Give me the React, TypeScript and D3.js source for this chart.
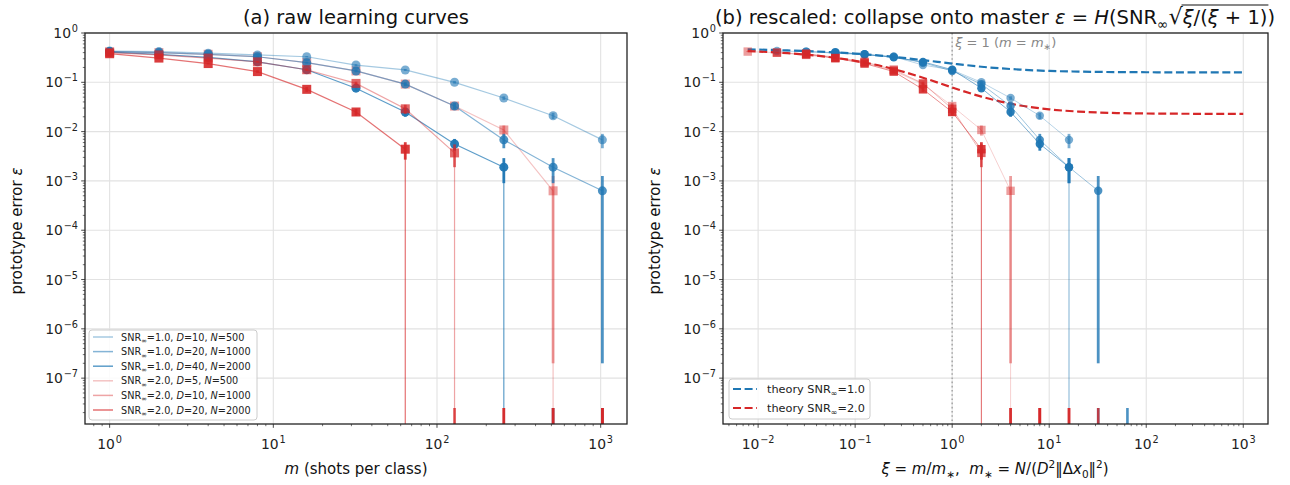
import React, { useRef, useEffect } from 'react';
import * as d3 from 'd3';

// shots per class m
const shots = [1, 2, 4, 8, 16, 32, 64, 128, 256, 512, 1024];

// one entry per run
const seriesSnr = ['1.0', '1.0', '1.0', '2.0', '2.0', '2.0'];
const seriesD = [10, 20, 40, 5, 10, 20];
const seriesN = [500, 1000, 2000, 500, 1000, 2000];
const seriesMStar = [64, 32, 16, 128, 64, 32];

// mean prototype error, 0 = no error seen
const errSnr1D10 = [0.43, 0.42, 0.39, 0.36, 0.33, 0.224, 0.178, 0.1, 0.048, 0.021, 0.0068];
const errSnr1D20 = [0.42, 0.4, 0.37, 0.33, 0.25, 0.17, 0.092, 0.033, 0.0068, 0.0019, 0.00063];
const errSnr1D40 = [0.41, 0.37, 0.32, 0.26, 0.18, 0.076, 0.025, 0.0056, 0.0019, 0, 0];
const errSnr2D5 = [0.42, 0.4, 0.37, 0.33, 0.25, 0.17, 0.092, 0.033, 0.0108, 0.00063, 0];
const errSnr2D10 = [0.4, 0.36, 0.31, 0.26, 0.18, 0.095, 0.029, 0.0037, 0, 0, 0];
const errSnr2D20 = [0.38, 0.31, 0.24, 0.165, 0.072, 0.025, 0.0044, 0, 0, 0, 0];

// std over trials
const sdSnr1D10 = [0.01, 0.01, 0.01, 0.01, 0.01, 0.01, 0.008, 0.006, 0.004, 0.003, 0.0022];
const sdSnr1D20 = [0.01, 0.01, 0.01, 0.01, 0.01, 0.01, 0.008, 0.005, 0.0022, 0.001, 0.0006298];
const sdSnr1D40 = [0.01, 0.01, 0.01, 0.01, 0.01, 0.008, 0.005, 0.0015, 0.001, 0, 0];
const sdSnr2D5 = [0.01, 0.01, 0.01, 0.01, 0.01, 0.01, 0.008, 0.005, 0.0025, 0.0006298, 0];
const sdSnr2D10 = [0.01, 0.01, 0.01, 0.01, 0.01, 0.008, 0.006, 0.0018, 0, 0, 0];
const sdSnr2D20 = [0.01, 0.01, 0.01, 0.01, 0.008, 0.004, 0.0017, 0, 0, 0, 0];

const errAll = [errSnr1D10, errSnr1D20, errSnr1D40, errSnr2D5, errSnr2D10, errSnr2D20];
const sdAll = [sdSnr1D10, sdSnr1D20, sdSnr1D40, sdSnr2D5, sdSnr2D10, sdSnr2D20];

// master curve
const xiTheory = [0.0078, 0.02, 0.05, 0.1, 0.2, 0.5, 1, 2, 5, 10, 20, 50, 100, 300, 1000];
const theorySnr1 = [0.465, 0.444, 0.414, 0.382, 0.342, 0.282, 0.24, 0.207, 0.181, 0.17, 0.165, 0.161, 0.16, 0.159, 0.159];
const theorySnr2 = [0.429, 0.39, 0.331, 0.273, 0.207, 0.124, 0.0786, 0.0512, 0.0339, 0.0283, 0.0255, 0.0238, 0.0233, 0.023, 0.0228];

const BLUE = '#1f77b4';
const RED = '#d62728';
const FONT = 'DejaVu Sans, sans-serif';

const colors = [BLUE, BLUE, BLUE, RED, RED, RED];
const markerAlpha = [0.6, 0.8, 0.95, 0.45, 0.7, 0.9];
const lineAlpha = [0.4, 0.55, 0.72, 0.28, 0.42, 0.65];
const drawOrder = [3, 0, 1, 2, 4, 5];

type Part = { t: string; it?: boolean; sub?: boolean; sup?: boolean; big?: number };

function rich(text: any, parts: Part[], fs: number) {
  let shift = 0;
  parts.forEach(p => {
    const target = p.sub ? fs * 0.25 : p.sup ? -fs * 0.42 : 0;
    const ts = text.append('tspan').text(p.t);
    if (target - shift !== 0) ts.attr('dy', target - shift);
    shift = target;
    if (p.sub || p.sup) ts.attr('font-size', fs * 0.7);
    if (p.big) ts.attr('font-size', fs * p.big);
    if (p.it) ts.attr('font-style', 'italic');
  });
}

function logTicks(scale: any) {
  const [a, b] = scale.domain();
  const lo = Math.floor(Math.log10(a));
  const hi = Math.ceil(Math.log10(b));
  const major: number[] = [];
  const minor: number[] = [];
  for (let e = lo; e <= hi; e++) {
    const v = Math.pow(10, e);
    if (v >= a && v <= b) major.push(e);
    for (let k = 2; k <= 9; k++) {
      const mv = k * v;
      if (mv >= a && mv <= b) minor.push(mv);
    }
  }
  return { major, minor };
}

const TICK_FS = 13.9;

function powLabel(t: any, e: number) {
  t.append('tspan').text('10');
  t.append('tspan').attr('dx', 0.8).attr('dy', -TICK_FS * 0.42).attr('font-size', TICK_FS * 0.7)
    .text(e < 0 ? '\u2212' + (-e) : String(e));
}

function drawAxes(svg: any, x: any, y: any, id: string) {
  const [x0, x1] = x.range();
  const [yb, yt] = y.range();
  const xt = logTicks(x);
  const yt2 = logTicks(y);

  svg.append('clipPath').attr('id', id)
    .append('rect').attr('x', x0).attr('y', yt).attr('width', x1 - x0).attr('height', yb - yt);

  const grid = svg.append('g');
  xt.major.forEach(e => {
    grid.append('line').attr('x1', x(Math.pow(10, e))).attr('x2', x(Math.pow(10, e)))
      .attr('y1', yt).attr('y2', yb).attr('stroke', '#e2e2e2').attr('stroke-width', 1.1);
  });
  yt2.major.forEach(e => {
    grid.append('line').attr('y1', y(Math.pow(10, e))).attr('y2', y(Math.pow(10, e)))
      .attr('x1', x0).attr('x2', x1).attr('stroke', '#e2e2e2').attr('stroke-width', 1.1);
  });

  const ax = svg.append('g').attr('font-family', FONT);
  // x ticks
  xt.minor.forEach(v => {
    ax.append('line').attr('x1', x(v)).attr('x2', x(v)).attr('y1', yb).attr('y2', yb + 2.2)
      .attr('stroke', '#333').attr('stroke-width', 0.7);
  });
  xt.major.forEach(e => {
    const px = x(Math.pow(10, e));
    ax.append('line').attr('x1', px).attr('x2', px).attr('y1', yb).attr('y2', yb + 3.8)
      .attr('stroke', '#333').attr('stroke-width', 0.9);
    const t = ax.append('text').attr('x', px).attr('y', yb + 25).attr('text-anchor', 'middle')
      .attr('font-size', TICK_FS).attr('fill', '#222');
    powLabel(t, e);
  });
  // y ticks
  yt2.minor.forEach(v => {
    ax.append('line').attr('y1', y(v)).attr('y2', y(v)).attr('x1', x0).attr('x2', x0 - 2.2)
      .attr('stroke', '#333').attr('stroke-width', 0.7);
  });
  yt2.major.forEach(e => {
    const py = y(Math.pow(10, e));
    ax.append('line').attr('y1', py).attr('y2', py).attr('x1', x0).attr('x2', x0 - 3.8)
      .attr('stroke', '#333').attr('stroke-width', 0.9);
    const t = ax.append('text').attr('x', x0 - 7).attr('y', py + 5).attr('text-anchor', 'end')
      .attr('font-size', TICK_FS).attr('fill', '#222');
    powLabel(t, e);
  });
}

function drawFrame(svg: any, x: any, y: any) {
  const [x0, x1] = x.range();
  const [yb, yt] = y.range();
  svg.append('rect').attr('x', x0).attr('y', yt).attr('width', x1 - x0).attr('height', yb - yt)
    .attr('fill', 'none').attr('stroke', '#222').attr('stroke-width', 1.3);
}

function drawSeries(g: any, x: any, y: any, i: number, rescaled: boolean, lw: number, ms: number) {
  const color = colors[i];
  const vals = errAll[i];
  const sds = sdAll[i];
  const xs = shots.map(m => (rescaled ? m / seriesMStar[i] : m));
  const bottom = y.range()[0];
  const pts = xs.map((xv, k) => ({ x: xv, v: vals[k], s: sds[k] })).filter(p => p.v > 0);
  const lastIdx = vals.reduce((acc, v, k) => (v > 0 ? k : acc), -1);

  g.append('path')
    .datum(pts)
    .attr('fill', 'none')
    .attr('stroke', color)
    .attr('stroke-opacity', lineAlpha[i])
    .attr('stroke-width', lw)
    .attr('d', d3.line<any>().x(p => x(p.x)).y(p => y(p.v)));

  // series drops to zero: line runs straight down the axis
  if (lastIdx < vals.length - 1) {
    const p = pts[pts.length - 1];
    g.append('line').attr('x1', x(p.x)).attr('x2', x(p.x)).attr('y1', y(p.v)).attr('y2', bottom)
      .attr('stroke', color).attr('stroke-opacity', lineAlpha[i]).attr('stroke-width', lw);
  }

  // error bars
  g.selectAll(null)
    .data(pts)
    .enter()
    .append('line')
    .attr('x1', p => x(p.x))
    .attr('x2', p => x(p.x))
    .attr('y1', p => y(p.v + p.s))
    .attr('y2', p => (p.v - p.s > 0 ? y(p.v - p.s) : bottom))
    .attr('stroke', color)
    .attr('stroke-opacity', markerAlpha[i])
    .attr('stroke-width', 2.8);

  const square = i >= 3;
  if (square) {
    g.selectAll(null).data(pts).enter().append('rect')
      .attr('x', p => x(p.x) - ms).attr('y', p => y(p.v) - ms)
      .attr('width', ms * 2).attr('height', ms * 2)
      .attr('fill', color).attr('fill-opacity', markerAlpha[i]);
  } else {
    g.selectAll(null).data(pts).enter().append('circle')
      .attr('cx', p => x(p.x)).attr('cy', p => y(p.v)).attr('r', ms)
      .attr('fill', color).attr('fill-opacity', markerAlpha[i]);
  }
}

function drawRugs(g: any, x: any, y: any, rescaled: boolean) {
  const bottom = y.range()[0];
  [0, 1, 2, 3, 4, 5].forEach(i => {
    errAll[i].forEach((v, k) => {
      if (v > 0) return;
      const xv = rescaled ? shots[k] / seriesMStar[i] : shots[k];
      g.append('rect').attr('x', x(xv) - 1.3).attr('y', bottom - 16).attr('width', 2.6).attr('height', 16)
        .attr('fill', colors[i]).attr('fill-opacity', 0.8);
    });
  });
}

export default function App() {
  const ref = useRef<SVGSVGElement>(null);

  useEffect(() => {
    document.body.style.margin = '0';
    const svg = d3.select(ref.current);
    svg.selectAll('*').remove();

    const y = d3.scaleLog().domain([Math.pow(10, -7.93), 1]).range([424, 33]);
    const xLeft = d3.scaleLog().domain([Math.pow(10, -0.1505), Math.pow(10, 3.1608)]).range([85, 627]);
    const xRight = d3.scaleLog().domain([Math.pow(10, -2.362), Math.pow(10, 3.255)]).range([723, 1268]);

    // ---------- panel (a) ----------
    drawAxes(svg, xLeft, y, 'clipA');
    const gA = svg.append('g').attr('clip-path', 'url(#clipA)');
    drawOrder.forEach(i => drawSeries(gA, xLeft, y, i, false, 1.2, 4.5));
    drawRugs(gA, xLeft, y, false);
    drawFrame(svg, xLeft, y);

    // legend (a)
    const legA = svg.append('g').attr('font-family', FONT);
    legA.append('rect').attr('x', 89).attr('y', 330).attr('width', 168).attr('height', 90).attr('rx', 3)
      .attr('fill', 'white').attr('fill-opacity', 0.85).attr('stroke', '#ccc');
    [0, 1, 2, 3, 4, 5].forEach(i => {
      const ly = 337 + i * 14.6;
      legA.append('line').attr('x1', 93).attr('x2', 113).attr('y1', ly).attr('y2', ly)
        .attr('stroke', colors[i]).attr('stroke-opacity', lineAlpha[i]).attr('stroke-width', 1.5);
      const t = legA.append('text').attr('x', 121).attr('y', ly + 3.5).attr('font-size', 9.7).attr('fill', '#222');
      rich(t, [
        { t: 'SNR' }, { t: '\u221e', sub: true }, { t: '=' + seriesSnr[i] + ', ' },
        { t: 'D', it: true }, { t: '=' + seriesD[i] + ', ' }, { t: 'N', it: true }, { t: '=' + seriesN[i] },
      ], 9.7);
    });

    // ---------- panel (b) ----------
    drawAxes(svg, xRight, y, 'clipB');
    const gB = svg.append('g').attr('clip-path', 'url(#clipB)');
    gB.append('line').attr('x1', xRight(1)).attr('x2', xRight(1)).attr('y1', 33).attr('y2', 424)
      .attr('stroke', '#aaa').attr('stroke-width', 1.6).attr('stroke-dasharray', '1.6,2.6');
    const theoryLine = d3.line<number>().x((_, k) => xRight(xiTheory[k])).y(v => y(v)).curve(d3.curveMonotoneX);
    gB.append('path').datum(theorySnr1).attr('fill', 'none').attr('stroke', BLUE).attr('stroke-width', 2.2)
      .attr('stroke-dasharray', '8,3.6').attr('d', theoryLine);
    gB.append('path').datum(theorySnr2).attr('fill', 'none').attr('stroke', RED).attr('stroke-width', 2.2)
      .attr('stroke-dasharray', '8,3.6').attr('d', theoryLine);
    drawOrder.forEach(i => drawSeries(gB, xRight, y, i, true, 0.8, 4.2));
    drawRugs(gB, xRight, y, true);
    drawFrame(svg, xRight, y);

    const ann = svg.append('text').attr('x', xRight(1) + 3).attr('y', 47).attr('font-size', 13)
      .attr('fill', '#888').attr('font-family', FONT).style('white-space', 'pre');
    rich(ann, [{ t: '\u03be', it: true }, { t: ' = 1 (' }, { t: 'm', it: true }, { t: ' = ' }, { t: 'm', it: true }, { t: '\u2217', sub: true }, { t: ')' }], 13);

    // legend (b)
    const legB = svg.append('g').attr('font-family', FONT);
    legB.append('rect').attr('x', 729).attr('y', 379).attr('width', 141).attr('height', 40).attr('rx', 3)
      .attr('fill', 'white').attr('fill-opacity', 0.85).attr('stroke', '#ccc');
    [BLUE, RED].forEach((c, k) => {
      const ly = 389 + k * 19;
      legB.append('line').attr('x1', 733).attr('x2', 757).attr('y1', ly).attr('y2', ly)
        .attr('stroke', c).attr('stroke-width', 2.2).attr('stroke-dasharray', '8,3.6');
      const t = legB.append('text').attr('x', 767).attr('y', ly + 4).attr('font-size', 11.3).attr('fill', '#222');
      rich(t, [{ t: 'theory SNR' }, { t: '\u221e', sub: true }, { t: k === 0 ? '=1.0' : '=2.0' }], 11.3);
    });

    // ---------- titles and labels ----------
    const TITLE_FS = 19.5;
    const txt = svg.append('g').attr('font-family', FONT).attr('fill', '#111');
    txt.append('text').attr('x', 356).attr('y', 24).attr('text-anchor', 'middle').attr('font-size', TITLE_FS)
      .text('(a) raw learning curves');

    const tb = txt.append('text').attr('x', 995).attr('y', 24).attr('text-anchor', 'middle').attr('font-size', TITLE_FS)
      .style('white-space', 'pre');
    const titleParts: Part[] = [
      { t: '(b) rescaled: collapse onto master ' }, { t: '\u03b5', it: true }, { t: ' = ' },
      { t: 'H', it: true }, { t: '(SNR' }, { t: '\u221e', sub: true }, { t: '\u221a', big: 1.15 },
      { t: '\u03be', it: true }, { t: '/(' }, { t: '\u03be', it: true }, { t: ' + 1)' }, { t: ')' },
    ];
    rich(tb, titleParts, TITLE_FS);
    const node = tb.node() as SVGTextElement;
    const idxOf = (n: number) => titleParts.slice(0, n).reduce((s, p) => s + p.t.length, 0);
    try {
      const sx = node.getEndPositionOfChar(idxOf(6)).x - 1.2;
      const ex = node.getEndPositionOfChar(idxOf(11) - 1).x + 1;
      txt.append('line').attr('x1', sx).attr('x2', ex).attr('y1', 5).attr('y2', 5)
        .attr('stroke', '#111').attr('stroke-width', 1.2);
    } catch (e) {
      // measuring not available
    }

    const LABEL_FS = 15;
    const yl = (cx: number) => {
      const t = txt.append('text').attr('transform', `translate(${cx},231) rotate(-90)`)
        .attr('text-anchor', 'middle').attr('font-size', LABEL_FS);
      rich(t, [{ t: 'prototype error ' }, { t: '\u03b5', it: true }], LABEL_FS);
    };
    yl(22);
    yl(660);

    const xla = txt.append('text').attr('x', 356).attr('y', 474).attr('text-anchor', 'middle').attr('font-size', LABEL_FS);
    rich(xla, [{ t: 'm', it: true }, { t: ' (shots per class)' }], LABEL_FS);

    const xlb = txt.append('text').attr('x', 995).attr('y', 474).attr('text-anchor', 'middle').attr('font-size', LABEL_FS)
      .style('white-space', 'pre');
    rich(xlb, [
      { t: '\u03be', it: true }, { t: ' = ' }, { t: 'm', it: true }, { t: '/' }, { t: 'm', it: true }, { t: '\u2217', sub: true },
      { t: ',  ' }, { t: 'm', it: true }, { t: '\u2217', sub: true }, { t: ' = ' }, { t: 'N', it: true }, { t: '/(' },
      { t: 'D', it: true }, { t: '2', sup: true }, { t: '\u2016\u0394' }, { t: 'x', it: true }, { t: '0', sub: true },
      { t: '\u2016' }, { t: '2', sup: true }, { t: ')' },
    ], LABEL_FS);
  }, []);

  return <svg ref={ref} width={1290} height={485} style={{ display: 'block', background: 'white' }} />;
}
